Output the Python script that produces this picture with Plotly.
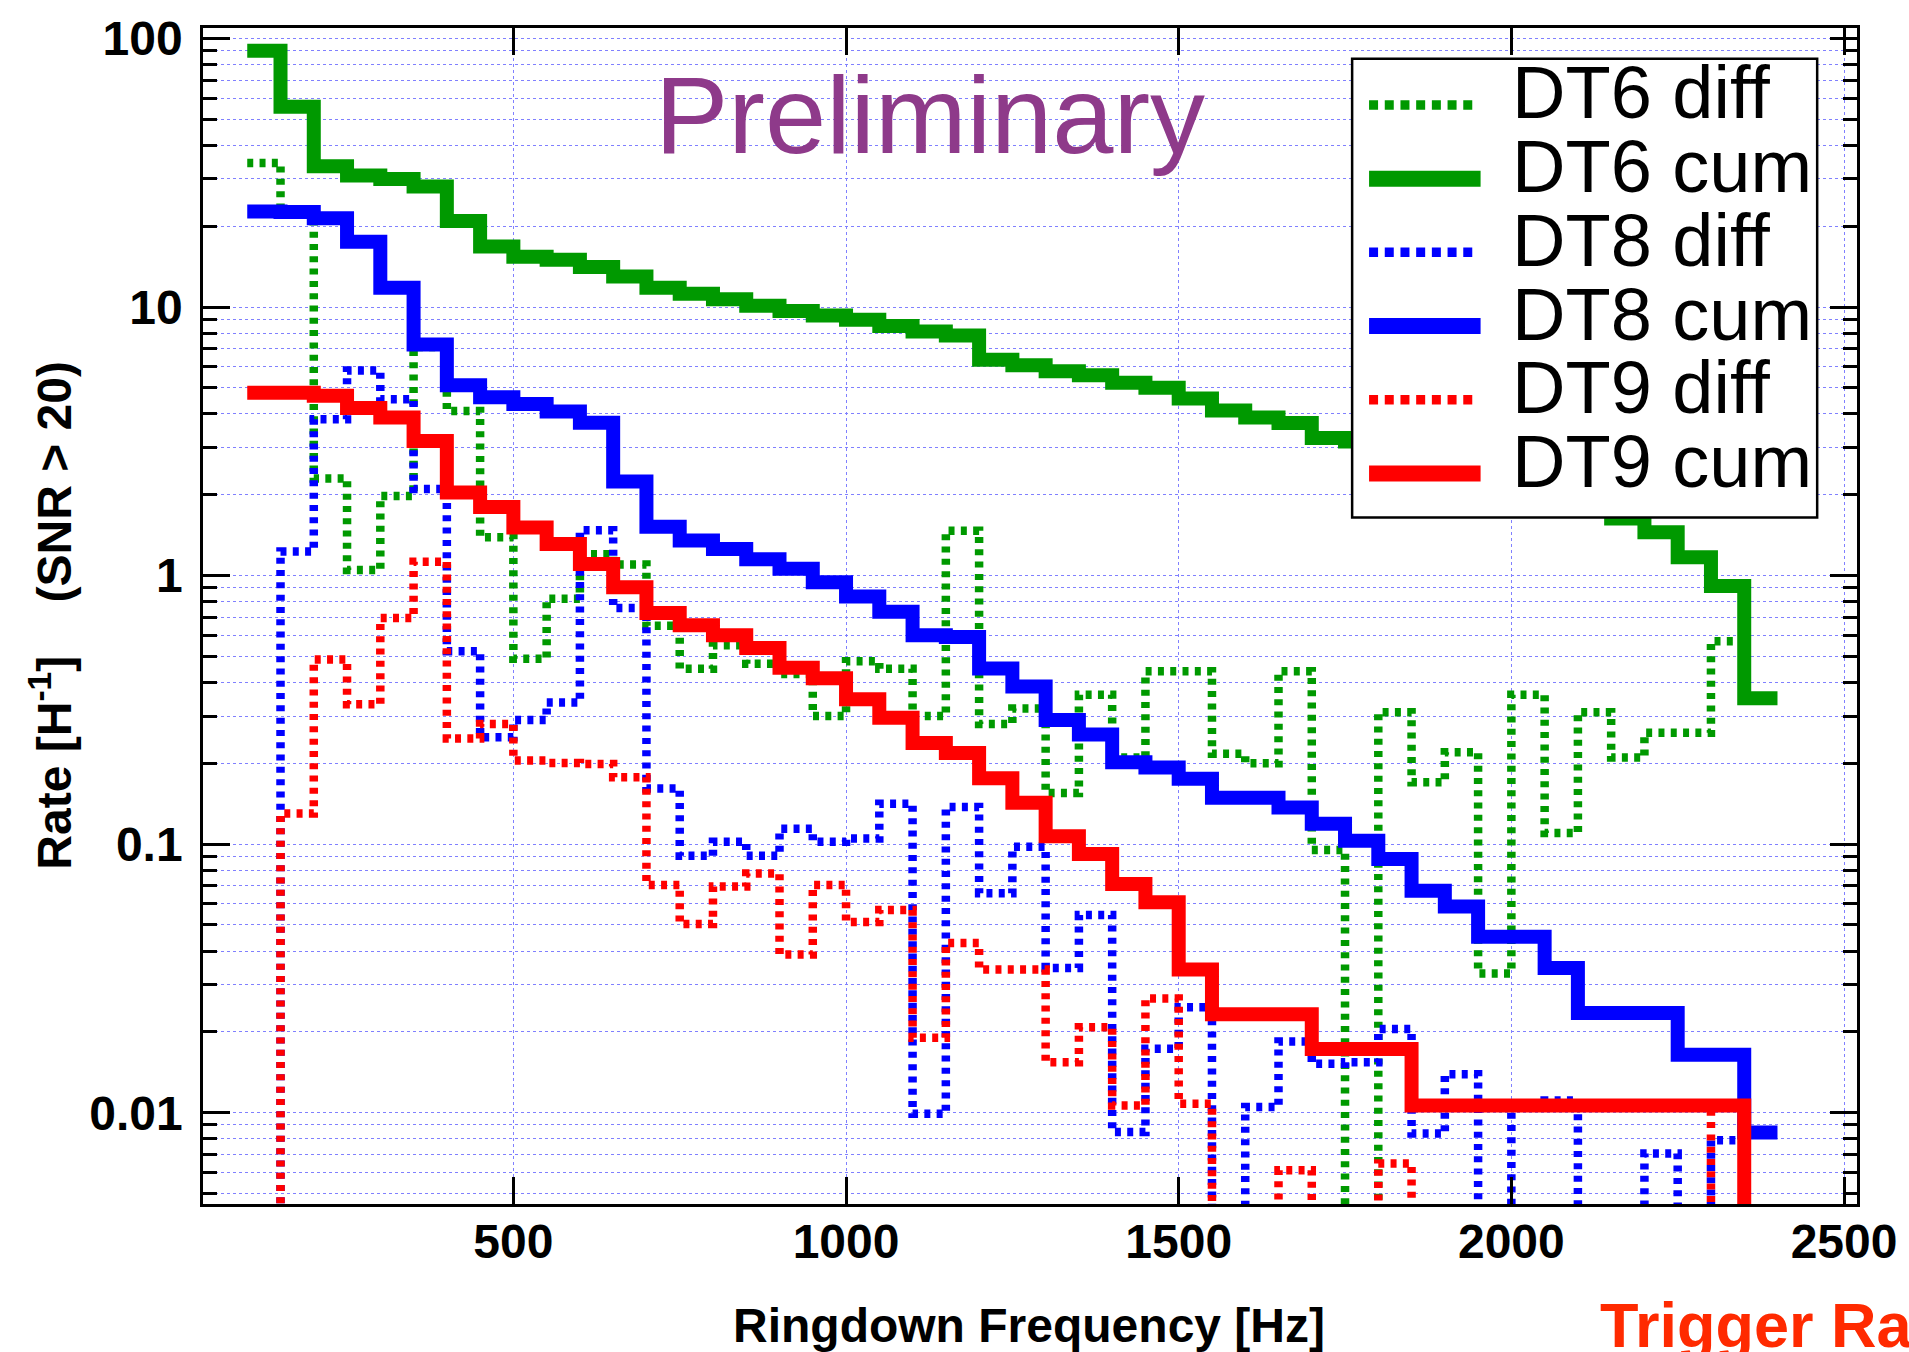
import math
import plotly.graph_objects as go

# ---------------- data ----------------
# lower edges of the 50 Hz frequency bins, plus the final upper edge
bin_low = [100, 150, 200, 250, 300, 350, 400, 450, 500, 550,
           600, 650, 700, 750, 800, 850, 900, 950, 1000, 1050,
           1100, 1150, 1200, 1250, 1300, 1350, 1400, 1450, 1500, 1550,
           1600, 1650, 1700, 1750, 1800, 1850, 1900, 1950, 2000, 2050,
           2100, 2150, 2200, 2250, 2300, 2350]
bin_upper_edge = 2400

# trigger rates per hour (SNR > 20); "diff" = per bin, "cum" = above frequency
dt6_diff = [34.4, 22.5, 2.3, 1.05, 1.98, 7.1, 4.1, 1.39, 0.49, 0.82,
            1.2, 1.1, 0.65, 0.45, 0.55, 0.47, 0.43, 0.30, 0.48, 0.45,
            0.30, 1.47, 0.28, 0.32, 0.155, 0.36, 0.21, 0.44, 0.44, 0.217,
            0.20, 0.44, 0.095, 0.0, 0.31, 0.17, 0.22, 0.033, 0.36, 0.11,
            0.31, 0.21, 0.26, 0.26, 0.57, 0.35]
dt6_cum = [90.0, 55.7, 33.4, 30.9, 30.0, 28.1, 20.9, 16.8, 15.4, 15.0,
           14.1, 13.0, 11.8, 11.2, 10.7, 10.1, 9.67, 9.29, 8.96, 8.5,
           8.1, 7.83, 6.37, 6.07, 5.76, 5.57, 5.23, 5.01, 4.56, 4.12,
           3.88, 3.70, 3.25, 3.16, 3.16, 2.85, 2.68, 2.46, 2.43, 2.07,
           1.96, 1.63, 1.45, 1.17, 0.914, 0.349]
dt8_diff = [0.0, 1.23, 3.82, 5.8, 4.54, 2.1, 0.523, 0.25, 0.29, 0.337,
            1.476, 0.757, 0.161, 0.0905, 0.102, 0.0905, 0.114, 0.102, 0.105, 0.1414,
            0.0099, 0.1375, 0.0657, 0.0977, 0.0346, 0.0545, 0.00848, 0.0173, 0.0247, 0.0,
            0.0105, 0.0184, 0.0152, 0.0154, 0.0205, 0.00836, 0.0139, 0.0, 0.0106, 0.0111,
            0.0, 0.0, 0.00705, 0.0, 0.0079, 0.00844]
dt8_cum = [22.7, 22.6, 21.4, 17.5, 11.8, 7.25, 5.11, 4.61, 4.35, 4.08,
           3.71, 2.24, 1.52, 1.35, 1.255, 1.15, 1.06, 0.944, 0.836, 0.733,
           0.599, 0.591, 0.451, 0.386, 0.29, 0.256, 0.202, 0.193, 0.175, 0.149,
           0.149, 0.137, 0.119, 0.103, 0.088, 0.067, 0.0586, 0.0452, 0.0452, 0.0346,
           0.0235, 0.0235, 0.0235, 0.01645, 0.01645, 0.00844]
dt9_diff = [0.0, 0.13, 0.487, 0.332, 0.695, 1.127, 0.2475, 0.28, 0.2047, 0.2006,
            0.199, 0.1775, 0.0705, 0.0504, 0.0695, 0.0778, 0.0388, 0.0705, 0.0513, 0.0569,
            0.019, 0.0428, 0.0341, 0.0341, 0.0154, 0.0208, 0.01064, 0.0266, 0.0108, 0.0,
            0.0, 0.0061, 0.0, 0.0, 0.00647, 0.0, 0.0, 0.0, 0.0, 0.0,
            0.0, 0.0, 0.0, 0.0, 0.01064, 0.0]
dt9_cum = [4.8, 4.8, 4.67, 4.21, 3.88, 3.17, 2.04, 1.80, 1.51, 1.31,
           1.104, 0.905, 0.725, 0.653, 0.599, 0.537, 0.4535, 0.415, 0.346, 0.2954,
           0.238, 0.2185, 0.176, 0.1426, 0.107, 0.0918, 0.0711, 0.0608, 0.0341, 0.02325,
           0.02325, 0.02325, 0.01726, 0.01726, 0.01726, 0.01064, 0.01064, 0.01064, 0.01064, 0.01064,
           0.01064, 0.01064, 0.01064, 0.01064, 0.01064, 0.0]

series_names = ["DT6 diff", "DT6 cum", "DT8 diff", "DT8 cum", "DT9 diff", "DT9 cum"]
series_values = [dt6_diff, dt6_cum, dt8_diff, dt8_cum, dt9_diff, dt9_cum]

x_tick_vals = [500, 1000, 1500, 2000, 2500]
y_tick_vals = [0.01, 0.1, 1, 10, 100]
y_tick_text = ["0.01", "0.1", "1", "10", "100"]

# ---------------- styling ----------------
GREEN, BLUE, RED = "#009900", "#0000ff", "#ff0000"
series_colors = [GREEN, GREEN, BLUE, BLUE, RED, RED]
series_dotted = [True, False, True, False, True, False]

W, H = 1909, 1352
ML, MR, MT, MB = 203, 45, 22, 148
PW, PH = W - ML - MR, H - MT - MB
X_RANGE = [33.5, 2519.5]
Y_RANGE = [-2.34, 2.039]
EMPTY_BIN = 1e-4          # empty bins fall below the visible log range
GRID = "#8080ff"
FONT = "Liberation Sans"


def px(xp):
    return (xp - ML) / PW


def py(yp):
    return (H - MB - yp) / PH


def step_trace(values, color, dotted):
    xs = bin_low + [bin_upper_edge]
    ys = [v if v > 0 else EMPTY_BIN for v in values]
    ys = ys + [ys[-1]]
    line = dict(color=color, width=8.5 if dotted else 14)
    if dotted:
        line["dash"] = "6px,6.3px"
    return go.Scatter(x=xs, y=ys, mode="lines", line_shape="hv", line=line,
                      showlegend=False, hoverinfo="skip")


fig = go.Figure()
for vals, col, dot in zip(series_values, series_colors, series_dotted):
    fig.add_trace(step_trace(vals, col, dot))

minor_y = [k * 10.0 ** e for e in range(-3, 3) for k in range(2, 10)
           if Y_RANGE[0] <= math.log10(k * 10.0 ** e) <= Y_RANGE[1]]

axis_common = dict(
    showline=True, linecolor="black", linewidth=2.5, mirror="ticks",
    ticks="inside", ticklen=27, tickwidth=2.5, tickcolor="black",
    showgrid=True, gridcolor=GRID, gridwidth=1, griddash="dot",
    zeroline=False,
    tickfont=dict(family=FONT, size=48, color="black", weight="bold"),
)

fig.update_xaxes(range=X_RANGE, tickmode="array", tickvals=x_tick_vals,
                 ticklabelstandoff=-6, **axis_common)
fig.update_yaxes(type="log", range=Y_RANGE, tickmode="array",
                 tickvals=y_tick_vals, ticktext=y_tick_text,
                 ticklabelstandoff=8,
                 minor=dict(tickmode="array", tickvals=minor_y, ticks="inside",
                            ticklen=14, tickwidth=2.5, tickcolor="black",
                            showgrid=True, gridcolor=GRID, gridwidth=1,
                            griddash="dot"),
                 **axis_common)

# ---------------- legend (drawn box) ----------------
shapes = []
annotations = []
shapes.append(dict(type="rect", xref="paper", yref="paper",
                   x0=px(1357), x1=px(1824), y0=py(514), y1=py(53),
                   fillcolor="white", line=dict(color="black", width=2.5)))
ROW0, ROW_STEP = 99.3, 74.1
for i, (name, col, dot) in enumerate(zip(series_names, series_colors, series_dotted)):
    yy = ROW0 + i * ROW_STEP
    if dot:
        ln = dict(color=col, width=9.5, dash="9px,6.7px")
        x_end = 1479
    else:
        ln = dict(color=col, width=16)
        x_end = 1486
    shapes.append(dict(type="line", xref="paper", yref="paper",
                       x0=px(1374), x1=px(x_end), y0=py(yy), y1=py(yy), line=ln))
    annotations.append(dict(text=name, xref="paper", yref="paper",
                            x=px(1516), y=py(yy - 12), xanchor="left", yanchor="middle",
                            showarrow=False,
                            font=dict(family=FONT, size=74, color="black")))

# ---------------- texts ----------------
annotations.append(dict(text="Preliminary", xref="paper", yref="paper",
                        x=px(933), y=py(109), xanchor="center", yanchor="middle",
                        showarrow=False,
                        font=dict(family=FONT, size=110, color="#8e3a8a")))
annotations.append(dict(text="Ringdown Frequency [Hz]", xref="paper", yref="paper",
                        x=px(1032), y=py(1326), xanchor="center", yanchor="middle",
                        showarrow=False,
                        font=dict(family=FONT, size=48, color="black", weight="bold")))
annotations.append(dict(text="Rate [H<sup>-1</sup>]\u00a0\u00a0\u00a0\u00a0(SNR &gt; 20)",
                        xref="paper", yref="paper", textangle=-90,
                        x=px(50), y=py(612), xanchor="center", yanchor="middle",
                        showarrow=False,
                        font=dict(family=FONT, size=48, color="black", weight="bold")))
annotations.append(dict(text="Trigger Rate", xref="paper", yref="paper",
                        x=px(1604), y=py(1326), xanchor="left", yanchor="middle",
                        showarrow=False,
                        font=dict(family=FONT, size=63, color="#ff2a00", weight="bold")))

fig.update_layout(
    width=W, height=H,
    margin=dict(l=ML, r=MR, t=MT, b=MB, pad=0),
    paper_bgcolor="white", plot_bgcolor="white",
    showlegend=False,
    shapes=shapes, annotations=annotations,
)

fig.write_html("out.html")
